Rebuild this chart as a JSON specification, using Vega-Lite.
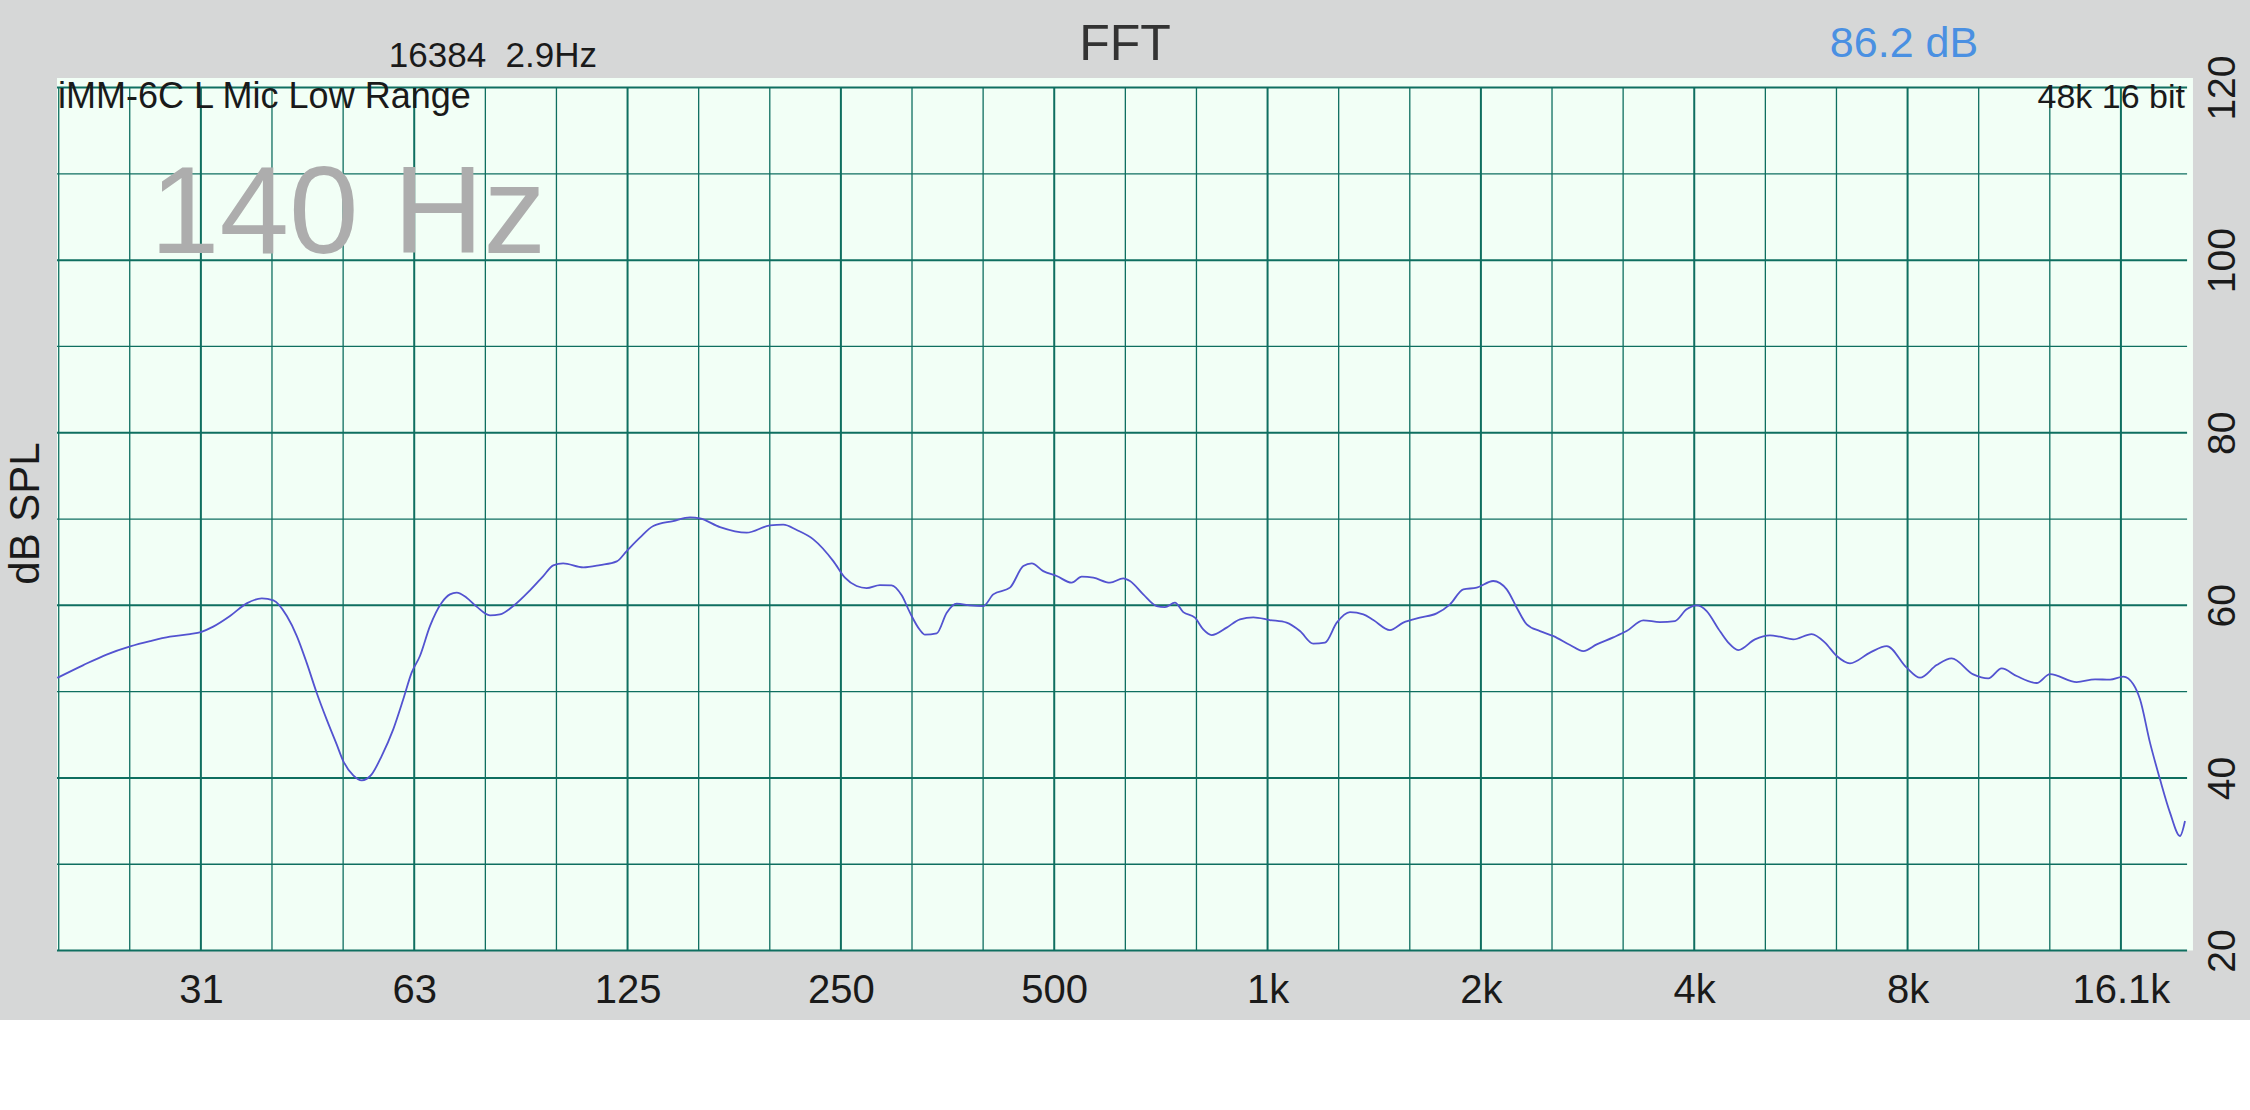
{
  "$schema": "https://vega.github.io/schema/vega-lite/v6.json",
  "width": 2250,
  "height": 1020,
  "autosize": {"type": "none"},
  "padding": {"left": 0, "top": 0, "right": 0, "bottom": 90},
  "background": "#ffffff",
  "config": {"view": {"fill": "#d6d7d7", "stroke": null}, "font": "Liberation Sans"},
  "resolve": {"axis": {"x": "independent", "y": "independent"}},
  "layer": [
    {
      "data": {"values": [{}]},
      "mark": {"type": "rect", "fill": "#f2fff6"},
      "encoding": {
        "x": {"datum": 19.58, "type": "quantitative", "scale": {"type": "log", "domain": [16.27, 24337], "nice": false}, "axis": null},
        "x2": {"datum": 20220},
        "y": {"datum": 20, "type": "quantitative", "scale": {"domain": [11.95, 130.15], "nice": false, "zero": false}, "axis": null},
        "y2": {"datum": 121.1}
      }
    },
    {
      "data": {"values": [{"db": 20}, {"db": 30}, {"db": 40}, {"db": 50}, {"db": 60}, {"db": 70}, {"db": 80}, {"db": 90}, {"db": 100}, {"db": 110}, {"db": 120}]},
      "mark": {"type": "rule", "color": "#0f6f60"},
      "encoding": {
        "y": {"field": "db", "type": "quantitative", "scale": {"domain": [11.95, 130.15], "nice": false, "zero": false},
          "axis": {"orient": "left", "title": "dB SPL", "labels": false, "ticks": false, "domain": false, "grid": false,
            "titleFontSize": 42, "titleFontWeight": "normal", "titleFont": "Liberation Sans", "titleColor": "#1a1a1a",
            "titleAngle": 270, "titleAlign": "center", "titleBaseline": "middle", "titleX": 25, "titleY": 513}},
        "x": {"datum": 19.58, "type": "quantitative", "scale": {"type": "log", "domain": [16.27, 24337], "nice": false}, "axis": null},
        "x2": {"datum": 19837},
        "strokeWidth": {"condition": {"test": "datum.db % 20 === 0", "value": 2}, "value": 1.3}
      }
    },
    {
      "data": {"values": [{"f": 19.69}, {"f": 24.8}, {"f": 31.25}, {"f": 39.37}, {"f": 49.61}, {"f": 62.5}, {"f": 78.75}, {"f": 99.21}, {"f": 125}, {"f": 157.49}, {"f": 198.43}, {"f": 250}, {"f": 314.98}, {"f": 396.85}, {"f": 500}, {"f": 629.96}, {"f": 793.7}, {"f": 1000}, {"f": 1259.92}, {"f": 1587.4}, {"f": 2000}, {"f": 2519.84}, {"f": 3174.8}, {"f": 4000}, {"f": 5039.68}, {"f": 6349.6}, {"f": 8000}, {"f": 10079.37}, {"f": 12699.21}, {"f": 16000}]},
      "mark": {"type": "rule", "color": "#0f6f60"},
      "encoding": {
        "x": {"field": "f", "type": "quantitative", "scale": {"type": "log", "domain": [16.27, 24337], "nice": false}, "axis": null},
        "y": {"datum": 20, "type": "quantitative", "scale": {"domain": [11.95, 130.15], "nice": false, "zero": false}, "axis": null},
        "y2": {"datum": 120},
        "strokeWidth": {"condition": {"test": "indexof([31.25,62.5,125,250,500,1000,2000,4000,8000,16000], datum.f) >= 0", "value": 2}, "value": 1.3}
      }
    },
    {
      "data": {"values": [
        {"f":19.6,"spl":51.6},{"f":21.3,"spl":53.05},{"f":23.0,"spl":54.3},{"f":24.84,"spl":55.25},{"f":26.5,"spl":55.86},{"f":28.26,"spl":56.37},{"f":30.16,"spl":56.67},{"f":31.25,"spl":56.91},{"f":32.53,"spl":57.53},{"f":34.35,"spl":58.76},{"f":36.26,"spl":60.23},{"f":38.09,"spl":60.81},{"f":39.56,"spl":60.58},{"f":41.32,"spl":58.76},{"f":42.68,"spl":56.44},{"f":44.06,"spl":53.36},{"f":45.52,"spl":49.88},{"f":47.02,"spl":46.79},{"f":48.58,"spl":43.89},{"f":49.63,"spl":41.96},{"f":51.27,"spl":40.3},{"f":52.69,"spl":39.72},{"f":54.43,"spl":40.42},{"f":56.22,"spl":42.54},{"f":58.38,"spl":45.63},{"f":60.31,"spl":49.11},{"f":61.98,"spl":52.2},{"f":63.67,"spl":54.13},{"f":65.78,"spl":57.6},{"f":68.33,"spl":60.31},{"f":70.19,"spl":61.27},{"f":71.74,"spl":61.47},{"f":74.1,"spl":60.89},{"f":76.55,"spl":59.85},{"f":79.94,"spl":58.84},{"f":82.58,"spl":58.96},{"f":86.22,"spl":59.92},{"f":91.03,"spl":61.74},{"f":95.05,"spl":63.4},{"f":98.19,"spl":64.64},{"f":101.4,"spl":64.87},{"f":108.25,"spl":64.4},{"f":114.3,"spl":64.67},{"f":120.7,"spl":65.1},{"f":124.65,"spl":66.29},{"f":130.1,"spl":67.84},{"f":135.9,"spl":69.19},{"f":145.0,"spl":69.77},{"f":153.1,"spl":70.2},{"f":158.1,"spl":70.08},{"f":168.8,"spl":69.07},{"f":184.05,"spl":68.42},{"f":198.6,"spl":69.27},{"f":207.3,"spl":69.35},{"f":216.6,"spl":68.73},{"f":228.6,"spl":67.65},{"f":243.9,"spl":65.13},{"f":253.3,"spl":63.21},{"f":263.1,"spl":62.24},{"f":271.8,"spl":62.0},{"f":283.8,"spl":62.35},{"f":294.8,"spl":62.32},{"f":304.6,"spl":61.16},{"f":312.9,"spl":59.15},{"f":323.2,"spl":57.14},{"f":328.5,"spl":56.6},{"f":341.3,"spl":56.76},{"f":352.6,"spl":59.15},{"f":364.2,"spl":60.2},{"f":380.3,"spl":60.0},{"f":397.1,"spl":59.92},{"f":410.1,"spl":61.27},{"f":433.0,"spl":62.05},{"f":452.2,"spl":64.55},{"f":464.7,"spl":64.87},{"f":482.5,"spl":63.97},{"f":504.0,"spl":63.4},{"f":529.2,"spl":62.63},{"f":546.7,"spl":63.33},{"f":567.7,"spl":63.21},{"f":599.3,"spl":62.63},{"f":625.8,"spl":63.13},{"f":639.5,"spl":62.82},{"f":667.7,"spl":61.27},{"f":697.4,"spl":59.92},{"f":716.4,"spl":59.8},{"f":740.1,"spl":60.31},{"f":760.4,"spl":59.22},{"f":789.8,"spl":58.57},{"f":811.4,"spl":57.22},{"f":833.8,"spl":56.56},{"f":875.6,"spl":57.42},{"f":914.2,"spl":58.38},{"f":954.7,"spl":58.61},{"f":1007.8,"spl":58.3},{"f":1064,"spl":58.0},{"f":1111,"spl":57.02},{"f":1160,"spl":55.56},{"f":1205,"spl":55.68},{"f":1252,"spl":58.0},{"f":1307,"spl":59.22},{"f":1365,"spl":58.96},{"f":1410,"spl":58.3},{"f":1488,"spl":57.14},{"f":1554,"spl":58.0},{"f":1640,"spl":58.57},{"f":1732,"spl":59.07},{"f":1809,"spl":60.12},{"f":1889,"spl":61.85},{"f":1973,"spl":62.05},{"f":2082,"spl":62.82},{"f":2175,"spl":61.85},{"f":2247,"spl":59.73},{"f":2321,"spl":57.8},{"f":2423,"spl":57.02},{"f":2532,"spl":56.44},{"f":2672,"spl":55.4},{"f":2790,"spl":54.7},{"f":2914,"spl":55.48},{"f":3075,"spl":56.29},{"f":3211,"spl":57.02},{"f":3390,"spl":58.26},{"f":3578,"spl":58.06},{"f":3757,"spl":58.18},{"f":3902,"spl":59.54},{"f":4032,"spl":60.0},{"f":4165,"spl":59.34},{"f":4325,"spl":57.3},{"f":4468,"spl":55.68},{"f":4615,"spl":54.82},{"f":4872,"spl":56.06},{"f":5116,"spl":56.52},{"f":5285,"spl":56.37},{"f":5518,"spl":56.06},{"f":5858,"spl":56.67},{"f":6117,"spl":55.68},{"f":6355,"spl":54.13},{"f":6635,"spl":53.28},{"f":7080,"spl":54.52},{"f":7476,"spl":55.28},{"f":7977,"spl":52.78},{"f":8330,"spl":51.62},{"f":8793,"spl":53.08},{"f":9231,"spl":53.86},{"f":9904,"spl":52.0},{"f":10398,"spl":51.54},{"f":10861,"spl":52.7},{"f":11403,"spl":51.81},{"f":12170,"spl":51.0},{"f":12707,"spl":52.04},{"f":13859,"spl":51.11},{"f":14710,"spl":51.43},{"f":15444,"spl":51.39},{"f":16125,"spl":51.74},{"f":16657,"spl":50.85},{"f":17024,"spl":49.11},{"f":17585,"spl":44.09},{"f":18167,"spl":39.84},{"f":18766,"spl":35.98},{"f":19387,"spl":33.27},{"f":19704,"spl":35.01}
      ]},
      "mark": {"type": "line", "interpolate": "monotone", "color": "#5353d0", "strokeWidth": 1.8},
      "encoding": {
        "x": {"field": "f", "type": "quantitative", "scale": {"type": "log", "domain": [16.27, 24337], "nice": false},
          "axis": {"orient": "bottom", "offset": -70, "values": [31.25, 62.5, 125, 250, 500, 1000, 2000, 4000, 8000, 16000],
            "labelExpr": "datum.value < 40 ? '31' : datum.value < 70 ? '63' : datum.value < 200 ? '125' : datum.value < 400 ? '250' : datum.value < 700 ? '500' : datum.value < 1500 ? '1k' : datum.value < 3000 ? '2k' : datum.value < 6000 ? '4k' : datum.value < 12000 ? '8k' : '16.1k'",
            "title": null, "grid": false, "ticks": false, "tickSize": 0, "domain": false, "labelFontSize": 40, "labelPadding": 52,
            "labelBaseline": "alphabetic", "labelColor": "#1a1a1a", "labelFlush": false, "labelOverlap": false, "labelFont": "Liberation Sans"}},
        "y": {"field": "spl", "type": "quantitative", "scale": {"domain": [11.95, 130.15], "nice": false, "zero": false},
          "axis": {"orient": "right", "offset": -63, "values": [20, 40, 60, 80, 100, 120], "title": null, "grid": false, "ticks": false,
            "tickSize": 0, "domain": false, "labelAngle": 270, "labelAlign": "center", "labelBaseline": "middle", "labelPadding": 35,
            "labelFontSize": 39, "labelFont": "Liberation Sans", "labelColor": "#1a1a1a", "labelFlush": false, "labelOverlap": false}}
      }
    },
    {
      "data": {"values": [{}]},
      "mark": {"type": "text", "align": "center", "baseline": "alphabetic", "fontSize": 50, "color": "#333333", "font": "Liberation Sans"},
      "encoding": {
        "x": {"datum": 629.2, "type": "quantitative", "scale": {"type": "log", "domain": [16.27, 24337], "nice": false}, "axis": null},
        "y": {"datum": 123.2, "type": "quantitative", "scale": {"domain": [11.95, 130.15], "nice": false, "zero": false}, "axis": null},
        "text": {"value": "FFT"}
      }
    },
    {
      "data": {"values": [{}]},
      "mark": {"type": "text", "align": "center", "baseline": "alphabetic", "fontSize": 35, "color": "#1a1a1a", "font": "Liberation Sans"},
      "encoding": {
        "x": {"datum": 80.7, "type": "quantitative", "scale": {"type": "log", "domain": [16.27, 24337], "nice": false}, "axis": null},
        "y": {"datum": 122.39, "type": "quantitative", "scale": {"domain": [11.95, 130.15], "nice": false, "zero": false}, "axis": null},
        "text": {"value": "16384\u00a0\u00a02.9Hz"}
      }
    },
    {
      "data": {"values": [{}]},
      "mark": {"type": "text", "align": "center", "baseline": "alphabetic", "fontSize": 43, "color": "#4a90e2", "font": "Liberation Sans"},
      "encoding": {
        "x": {"datum": 7907, "type": "quantitative", "scale": {"type": "log", "domain": [16.27, 24337], "nice": false}, "axis": null},
        "y": {"datum": 123.55, "type": "quantitative", "scale": {"domain": [11.95, 130.15], "nice": false, "zero": false}, "axis": null},
        "text": {"value": "86.2 dB"}
      }
    },
    {
      "data": {"values": [{}]},
      "mark": {"type": "text", "align": "left", "baseline": "alphabetic", "fontSize": 36, "color": "#1a1a1a", "font": "Liberation Sans"},
      "encoding": {
        "x": {"datum": 19.64, "type": "quantitative", "scale": {"type": "log", "domain": [16.27, 24337], "nice": false}, "axis": null},
        "y": {"datum": 117.63, "type": "quantitative", "scale": {"domain": [11.95, 130.15], "nice": false, "zero": false}, "axis": null},
        "text": {"value": "iMM-6C L Mic Low Range"}
      }
    },
    {
      "data": {"values": [{}]},
      "mark": {"type": "text", "align": "right", "baseline": "alphabetic", "fontSize": 34, "color": "#1a1a1a", "font": "Liberation Sans"},
      "encoding": {
        "x": {"datum": 19704, "type": "quantitative", "scale": {"type": "log", "domain": [16.27, 24337], "nice": false}, "axis": null},
        "y": {"datum": 117.63, "type": "quantitative", "scale": {"domain": [11.95, 130.15], "nice": false, "zero": false}, "axis": null},
        "text": {"value": "48k 16 bit"}
      }
    },
    {
      "data": {"values": [{}]},
      "mark": {"type": "text", "align": "left", "baseline": "alphabetic", "fontSize": 125, "color": "#adadad", "font": "Liberation Sans"},
      "encoding": {
        "x": {"datum": 26.49, "type": "quantitative", "scale": {"type": "log", "domain": [16.27, 24337], "nice": false}, "axis": null},
        "y": {"datum": 100.83, "type": "quantitative", "scale": {"domain": [11.95, 130.15], "nice": false, "zero": false}, "axis": null},
        "text": {"value": "140 Hz"}
      }
    }
  ]
}
